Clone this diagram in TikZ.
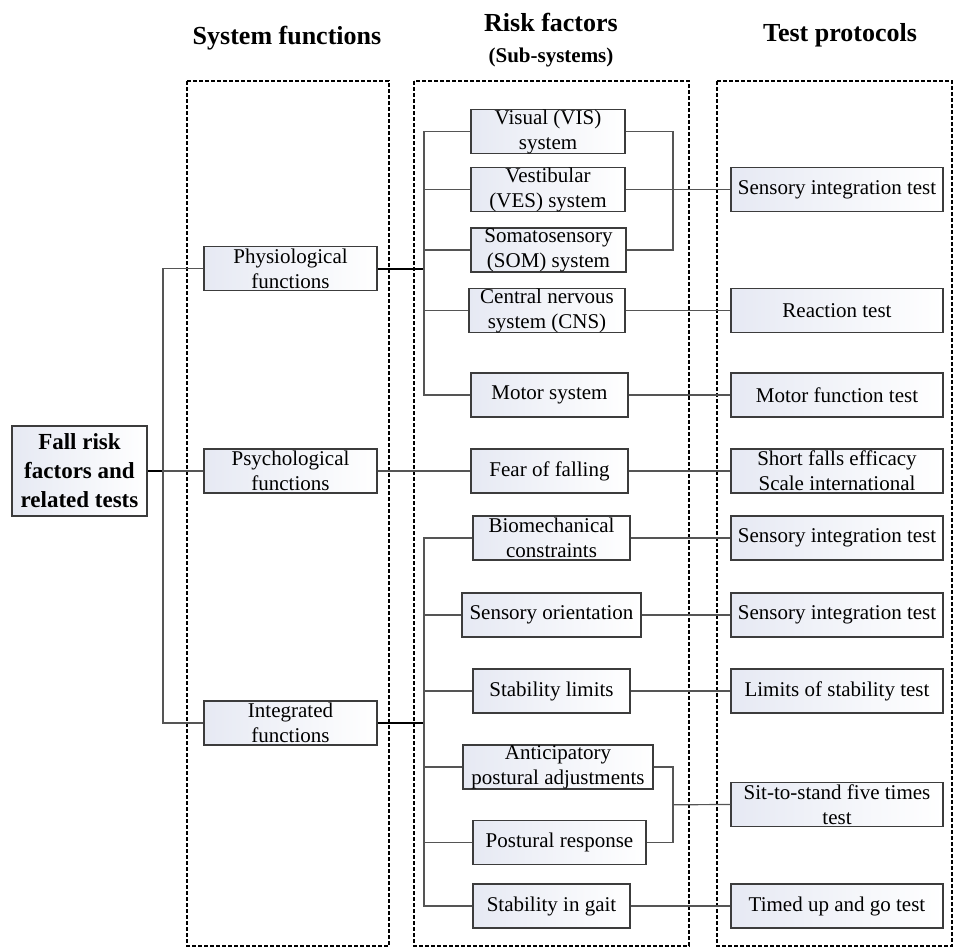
\documentclass[tikz,border=0pt]{standalone}
\usepackage{fontspec}
\setmainfont{Liberation Serif}
\begin{document}
\definecolor{boxedge}{RGB}{60,60,60}
\definecolor{linegray}{RGB}{85,85,85}
\definecolor{boxfill}{RGB}{230,233,243}
\begin{tikzpicture}[x=1pt,y=-1pt,
  box/.style={draw=boxedge, line width=1.2pt, left color=boxfill, right color=white,
    align=center, inner sep=0pt, minimum height=44pt,
    font=\fontsize{21}{25}\selectfont},
  testbox/.style={box, minimum width=212pt},
  title/.style={font=\bfseries\fontsize{26}{30}\selectfont},
  group/.style={draw=black, line width=1.8pt, dash pattern=on 4pt off 2pt},
  link/.style={draw=linegray, line width=1.2pt},
  trunk/.style={draw=black, line width=2pt}]
\useasboundingbox (0,0) rectangle (954,948);

% column headings
\node[title] (h1) at (287,38) {System functions};
\node[title] (h2) at (551,22) {Risk factors};
\node[font=\bfseries\fontsize{21}{24}\selectfont] (h2b) at (551,57) {(Sub-systems)};
\node[title] (h3) at (840,35) {Test protocols};

% dashed column frames
\draw[group] (187,81) rectangle (389,946);
\draw[group] (414,81) rectangle (689,946);
\draw[group] (717,81) rectangle (952,946);

% root
\node[box, minimum width=135pt, minimum height=90pt,
  font=\bfseries\fontsize{23}{29}\selectfont] (root) at (79.5,471)
  {Fall risk\\factors and\\related tests};

% system functions
\node[box, minimum width=173pt] (phys) at (290.5,268.5) {Physiological\\functions};
\node[box, minimum width=173pt] (psych) at (290.5,471) {Psychological\\functions};
\node[box, minimum width=173pt] (integ) at (290.5,723) {Integrated\\functions};

% risk factors
\node[box, minimum width=154pt] (vis) at (548,131.5) {Visual (VIS)\\system};
\node[box, minimum width=154pt] (ves) at (548,189.5) {Vestibular\\(VES) system};
\node[box, minimum width=155pt] (som) at (548.5,250) {Somatosensory\\(SOM) system};
\node[box, minimum width=156pt] (cns) at (547,310.5) {Central nervous\\system (CNS)};
\node[box, minimum width=157pt] (motor) at (549.5,395) {Motor system};
\node[box, minimum width=157pt] (fear) at (549.5,471) {Fear of falling};
\node[box, minimum width=157pt] (bio) at (551.5,538) {Biomechanical\\constraints};
\node[box, minimum width=179pt] (sorient) at (551.5,615) {Sensory orientation};
\node[box, minimum width=157pt] (slimits) at (551.5,691) {Stability limits};
\node[box, minimum width=190pt] (antic) at (558,767) {Anticipatory\\postural adjustments};
\node[box, minimum width=173pt] (postural) at (559.5,842.5) {Postural response};
\node[box, minimum width=157pt] (gait) at (551.5,906) {Stability in gait};

% test protocols
\node[testbox] (t1) at (837,189.5) {Sensory integration test};
\node[testbox] (t2) at (837,310.5) {Reaction test};
\node[testbox] (t3) at (837,395) {Motor function test};
\node[testbox] (t4) at (837,471) {Short falls efficacy\\Scale international};
\node[testbox] (t5) at (837,538) {Sensory integration test};
\node[testbox] (t6) at (837,615) {Sensory integration test};
\node[testbox] (t7) at (837,691) {Limits of stability test};
\node[testbox] (t8) at (837,804.5) {Sit-to-stand five times\\test};
\node[testbox] (t9) at (837,906) {Timed up and go test};

% junction points
\coordinate (rj) at (163,471);
\coordinate (pj) at (424,268.5);
\coordinate (ij) at (424,723);
\coordinate (sb) at (673,189.5);
\coordinate (pb) at (673,804.75);

% root to system functions
\draw[trunk] (root.east) -- (rj);
\draw[link] (rj) -- (psych.west);
\draw[link] (phys.west) -| (rj) |- (integ.west);

% physiological branch
\draw[trunk] (phys.east) -- (pj);
\draw[link] (vis.west) -| (pj);
\draw[link] (motor.west) -| (pj);
\draw[link] (ves.west) -- (ves.west -| pj);
\draw[link] (som.west) -- (som.west -| pj);
\draw[link] (cns.west) -- (cns.west -| pj);

% psychological branch
\draw[link] (psych.east) -- (fear.west);

% integrated branch
\draw[trunk] (integ.east) -- (ij);
\draw[link] (bio.west) -| (ij);
\draw[link] (gait.west) -| (ij);
\draw[link] (sorient.west) -- (sorient.west -| ij);
\draw[link] (slimits.west) -- (slimits.west -| ij);
\draw[link] (antic.west) -- (antic.west -| ij);
\draw[link] (postural.west) -- (postural.west -| ij);

% risk factors to tests
\draw[link] (vis.east) -| (sb) |- (som.east);
\draw[link] (ves.east) -- (t1.west);
\draw[link] (cns.east) -- (t2.west);
\draw[link] (motor.east) -- (t3.west);
\draw[link] (fear.east) -- (t4.west);
\draw[link] (bio.east) -- (t5.west);
\draw[link] (sorient.east) -- (t6.west);
\draw[link] (slimits.east) -- (t7.west);
\draw[link] (antic.east) -| (pb) |- (postural.east);
\draw[link] (pb) -- (t8.west);
\draw[link] (gait.east) -- (t9.west);
\end{tikzpicture}
\end{document}
